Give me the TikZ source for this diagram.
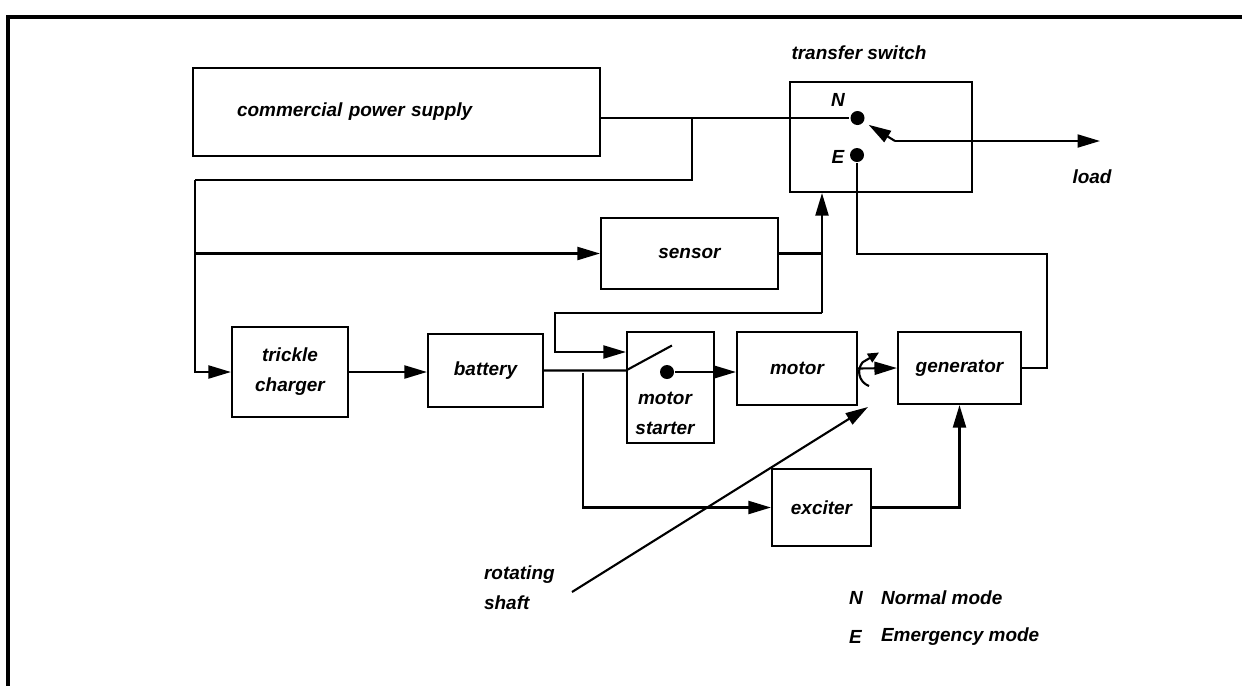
\documentclass[tikz,border=0pt]{standalone}
\usepackage{fontspec}
\setmainfont{Liberation Sans}
\usetikzlibrary{arrows.meta}
\tikzset{
  block/.style={draw,inner sep=0pt,align=center},
  flow/.style={-{Triangle[length=0.45cm,width=0.26cm]}},
  dot/.style={circle,fill,inner sep=0pt,minimum size=0.28cm}
}

\begin{document}
\begin{tikzpicture}[line width=1.2pt,
  every node/.style={font=\fontsize{10.8}{17}\selectfont\bfseries\itshape}]
  \useasboundingbox (0,0) rectangle (24.84,-13.7);
  \draw[line width=2pt] (0.16,-13.8) -- (0.16,-0.34) -- (24.9,-0.34);

  % blocks
  \node [block, minimum width=8.14cm, minimum height=1.76cm, text width=6.38cm,
         align=left, inner xsep=0.88cm] (cps) at (7.93,-2.24) {commercial power supply};
  \node [block, minimum width=3.64cm, minimum height=2.2cm] (ts) at (17.62,-2.74) {};
  \node [block, minimum width=3.54cm, minimum height=1.42cm] (sen) at (13.79,-5.07) {sensor};
  \node [block, minimum width=2.32cm, minimum height=1.8cm] (tc) at (5.8,-7.44) {trickle\\charger};
  \node [block, minimum width=2.3cm, minimum height=1.46cm] (bat) at (9.71,-7.41) {battery};
  \node [block, minimum width=1.74cm, minimum height=2.22cm] (ms) at (13.41,-7.75) {};
  \node [align=center, inner sep=0pt] (mslab) at (13.3,-8.27) {motor\\starter};
  \node [block, minimum width=2.4cm, minimum height=1.46cm] (mot) at (15.94,-7.37) {motor};
  \node [block, minimum width=2.46cm, minimum height=1.44cm] (gen) at (19.19,-7.36) {generator};
  \node [block, minimum width=1.98cm, minimum height=1.54cm] (exc) at (16.43,-10.15) {exciter};

  % transfer switch
  \node (tslab) at (17.18,-1.06) {transfer switch};
  \node [dot] (N) at (17.15,-2.36) {};
  \node [dot] (E) at (17.14,-3.10) {};
  \node (Nlab) at (16.76,-2.0) {N};
  \node (Elab) at (16.76,-3.14) {E};
  \coordinate (piv) at (17.9,-2.82);
  \coordinate (ld) at (22.0,-2.82);
  \draw [flow, shorten >=0.1cm] (piv) -- (N);
  \draw [flow] (piv) -- (ld);
  \node (load) at (21.84,-3.54) {load};

  % supply side
  \draw (cps.east |- N) -- (N);
  \coordinate (j1) at (13.84,-2.36);
  \coordinate (j2) at (3.9,-3.6);
  \draw (j1) |- (j2);
  \draw [flow] (j2) |- (tc.west);
  \draw [flow] (j2 |- sen.west) -- (sen.west);

  % sensor and control
  \coordinate (j3) at (16.44,-6.26);
  \coordinate (j4) at (11.1,-7.04);
  \draw [flow] (j3) -- (j3 |- ts.south);
  \draw (sen.east) -- (sen.east -| j3);
  \draw [flow] (j3) -| (j4) -- (j4 -| ms.west);

  % emergency feed
  \coordinate (j5) at (20.94,-5.08);
  \draw (E) |- (j5) |- (gen.east);

  % battery and starter
  \draw [flow] (tc.east) -- (tc.east -| bat.west);
  \coordinate (sw) at (ms.west |- bat.east);
  \draw (bat.east) -- (sw) -- ++(0.92,0.5);
  \node [dot] (md) at (13.34,-7.44) {};
  \draw [flow] (md) -- (md -| mot.west);
  \coordinate (j6) at (11.66,-7.46);
  \draw [flow] (j6) |- (exc.west);
  \draw [flow] (exc.east) -| (gen.south);
  \draw [flow] (mot.east) -- (gen.west);

  % shaft
  \draw [-{Triangle[length=0.22cm,width=0.2cm]}] (17.38,-7.72)
    arc[start angle=250, end angle=140, radius=0.3] -- (17.58,-7.05);
  \coordinate (s0) at (11.44,-11.84);
  \coordinate (s1) at (17.36,-8.14);
  \draw [flow] (s0) -- (s1);
  \node [align=left, anchor=west, inner sep=0pt] (shaft) at (9.66,-11.75) {rotating\\shaft};

  % legend
  \node [anchor=west, inner sep=0pt] (lgN) at (16.96,-11.96) {N};
  \node [anchor=west, inner sep=0pt] (lgNt) at (17.6,-11.96) {Normal mode};
  \node [anchor=west, inner sep=0pt] (lgE) at (16.96,-12.74) {E};
  \node [anchor=west, inner sep=0pt] (lgEt) at (17.6,-12.74) {Emergency mode};
\end{tikzpicture}
\end{document}
